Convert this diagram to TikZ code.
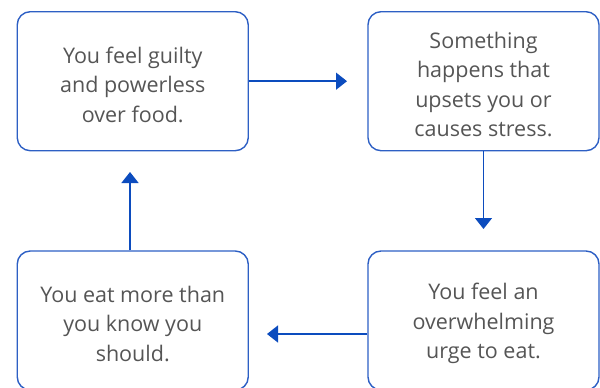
\documentclass[tikz,border=0pt]{standalone}
\usepackage{fontspec}
\setmainfont{Open Sans}
\usetikzlibrary{arrows.meta}
\definecolor{boxblue}{HTML}{2D5FC4}
\definecolor{arrblue}{HTML}{0C4CBE}
\definecolor{txtgray}{HTML}{555555}
\newcommand\lowtop{\rule{0pt}{23pt}}
\tikzset{
  stepbox/.style={draw=boxblue, line width=1.4pt, rounded corners=13pt,
    minimum width=231pt, minimum height=139pt, inner sep=0pt,
    align=center, text=txtgray, font=\fontsize{21.5}{29.5}\selectfont},
  flow/.style={draw=arrblue, line width=1.5pt, -{Triangle[length=11pt,width=17pt]}}
}
\begin{document}
\begin{tikzpicture}[x=1pt,y=-1pt]
\useasboundingbox (0,0) rectangle (600,388);
\node[stepbox] (tl) at (132.75,81.2) {\lowtop You feel guilty\\and powerless\\over food.};
\node[stepbox] (tr) at (483.5,81.2) {\lowtop Something\\happens that\\upsets you or\\causes stress.};
\node[stepbox] (br) at (483.5,320.5) {\lowtop You feel an\\overwhelming\\urge to eat.};
\node[stepbox] (bl) at (132.75,320.5) {\lowtop You eat more than\\you know you\\should.};
\coordinate (a1) at (347,81.2);
\coordinate (a2) at (483.5,229);
\coordinate (a3) at (267,334);
\coordinate (a4) at (130,172);
\draw[flow] (tl.east) -- (a1);
\draw[flow] (tr.south) -- (a2);
\draw[flow] (br.west |- a3) -- (a3);
\draw[flow] (bl.north -| a4) -- (a4);
\end{tikzpicture}
\end{document}
